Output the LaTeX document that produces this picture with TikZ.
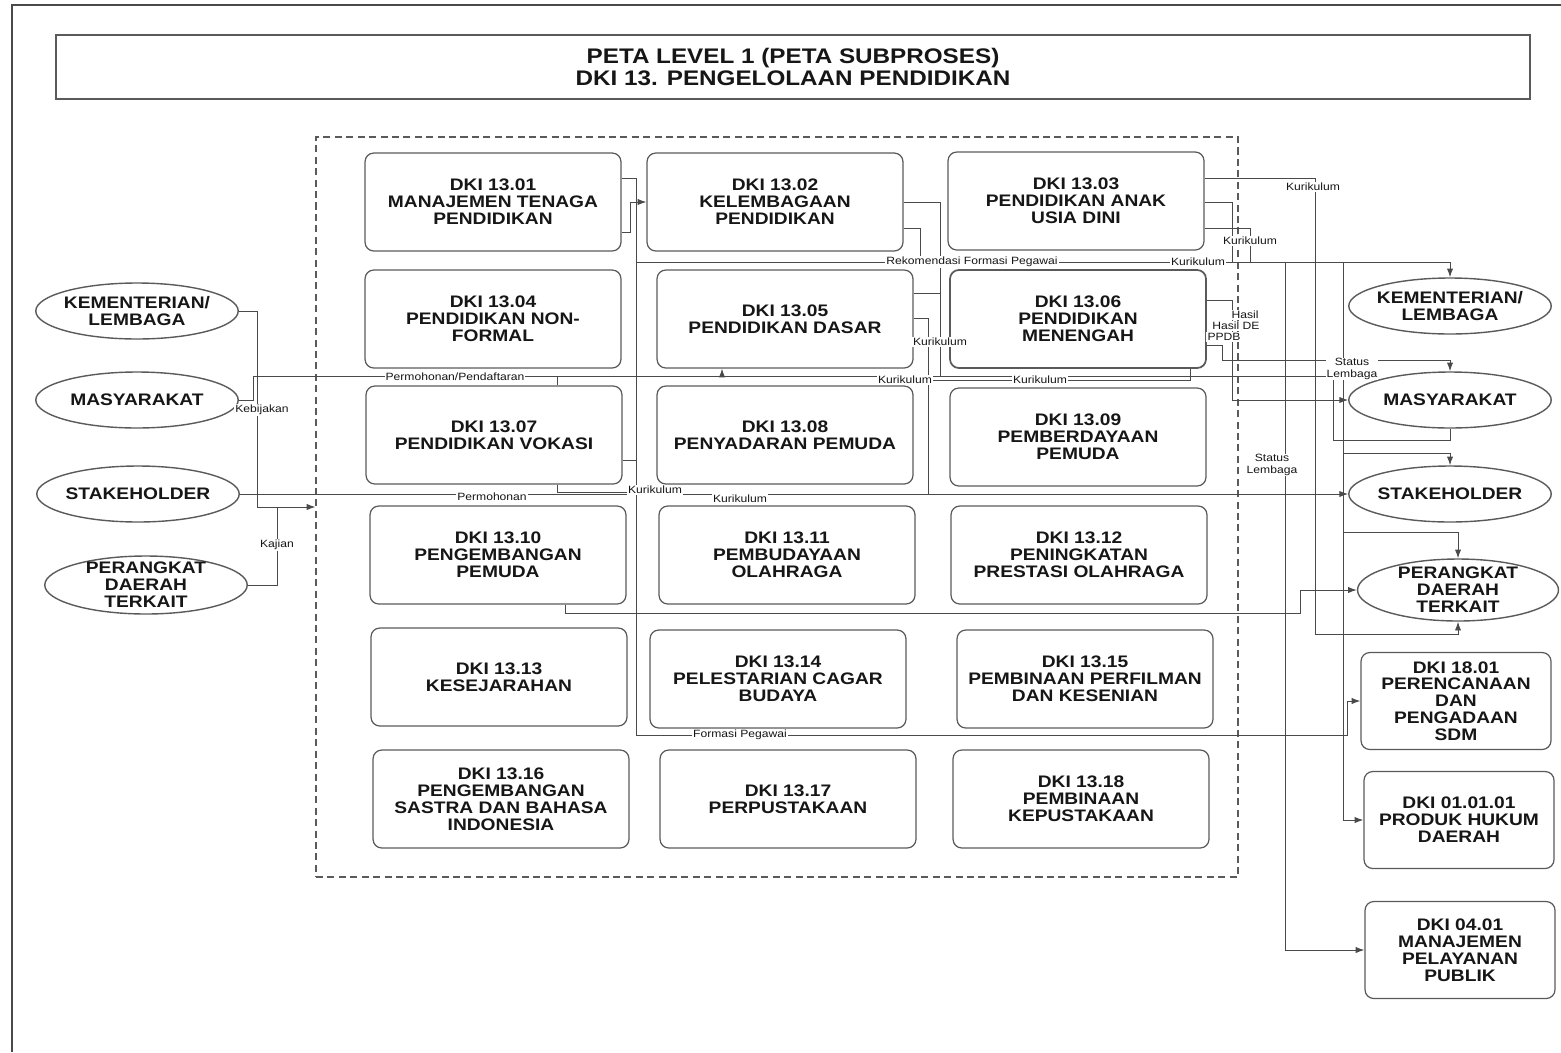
\documentclass[tikz,border=0pt]{standalone}
\usepackage{fontspec}
\setmainfont{Liberation Sans}[FakeStretch=1.15]
\usepackage{xcolor}
\usepackage{tikz}
\usetikzlibrary{arrows.meta, positioning, shapes.geometric, fit}
\definecolor{pkGaris}{HTML}{4A4A4A}
\definecolor{pkKotak}{HTML}{5A5A5A}
\definecolor{pkTeks}{HTML}{161616}
\tikzset{
  pk-proses/.style={
    rectangle, rounded corners=5pt, draw=pkKotak, line width=0.7pt,
    minimum width=5.12cm, minimum height=1.96cm, align=center,
    text=pkTeks, font=\bfseries\fontsize{9.5}{9.6}\selectfont
  },
  pk-luar/.style={
    pk-proses, minimum width=3.8cm, minimum height=1.94cm
  },
  pk-pihak/.style={
    ellipse, draw=pkKotak, line width=0.8pt, inner sep=0pt,
    minimum width=4.05cm, minimum height=1.12cm
  },
  pk-pihak-teks/.style={
    align=center, text=pkTeks, inner sep=0pt,
    font=\bfseries\fontsize{9.5}{9.6}\selectfont
  },
  pk-judul/.style={
    rectangle, draw=pkKotak, line width=0.8pt, align=center,
    minimum width=29.48cm, minimum height=1.28cm,
    text=pkTeks, font=\bfseries\fontsize{12}{12}\selectfont
  },
  pk-wadah/.style={
    rectangle, draw=pkKotak, dash pattern=on 4pt off 2.5pt,
    line width=0.6pt, inner sep=0pt
  },
  pk-garis/.style={draw=pkGaris, line width=0.55pt},
  pk-alir/.style={pk-garis, -{Latex[length=5pt,width=3.6pt]}},
  pk-ket/.style={
    font=\fontsize{6}{6.4}\selectfont, fill=white, inner sep=0.6pt,
    align=center, text=pkTeks
  },
}
\begin{document}
\begin{tikzpicture}[x=0.02cm, y=-0.02cm]
  \useasboundingbox (0,0) rectangle (1561,1052);
  \draw[pkGaris, line width=1.1pt] (12,1052) -- (12,5) -- (1561,5);
  \node[pk-judul] (judul) at (793,67)
    {PETA LEVEL 1 (PETA SUBPROSES)\\DKI 13. PENGELOLAAN PENDIDIKAN};

  % wadah subproses
  \coordinate (wA) at (316,137);
  \coordinate (wB) at (1238,877);
  \node[pk-wadah, fit=(wA)(wB)] (wadah) {};

  % subproses DKI 13
  \node[pk-proses] (p01) at (493,202) {DKI 13.01\\MANAJEMEN TENAGA\\PENDIDIKAN};
  \node[pk-proses] (p02) at (775,202) {DKI 13.02\\KELEMBAGAAN\\PENDIDIKAN};
  \node[pk-proses] (p03) at (1076,201) {DKI 13.03\\PENDIDIKAN ANAK\\USIA DINI};
  \node[pk-proses] (p04) at (493,319) {DKI 13.04\\PENDIDIKAN NON-\\FORMAL};
  \node[pk-proses] (p05) at (785,319) {DKI 13.05\\PENDIDIKAN DASAR};
  \node[pk-proses, line width=1pt] (p06) at (1078,319) {DKI 13.06\\PENDIDIKAN\\MENENGAH};
  \node[pk-proses] (p07) at (494,435) {DKI 13.07\\PENDIDIKAN VOKASI};
  \node[pk-proses] (p08) at (785,435) {DKI 13.08\\PENYADARAN PEMUDA};
  \node[pk-proses] (p09) at (1078,437) {DKI 13.09\\PEMBERDAYAAN\\PEMUDA};
  \node[pk-proses] (p10) at (498,555) {DKI 13.10\\PENGEMBANGAN\\PEMUDA};
  \node[pk-proses] (p11) at (787,555) {DKI 13.11\\PEMBUDAYAAN\\OLAHRAGA};
  \node[pk-proses] (p12) at (1079,555) {DKI 13.12\\PENINGKATAN\\PRESTASI OLAHRAGA};
  \node[pk-proses] (p13) at (499,677) {DKI 13.13\\KESEJARAHAN};
  \node[pk-proses] (p14) at (778,679) {DKI 13.14\\PELESTARIAN CAGAR\\BUDAYA};
  \node[pk-proses] (p15) at (1085,679) {DKI 13.15\\PEMBINAAN PERFILMAN\\DAN KESENIAN};
  \node[pk-proses] (p16) at (501,799) {DKI 13.16\\PENGEMBANGAN\\SASTRA DAN BAHASA\\INDONESIA};
  \node[pk-proses] (p17) at (788,799) {DKI 13.17\\PERPUSTAKAAN};
  \node[pk-proses] (p18) at (1081,799) {DKI 13.18\\PEMBINAAN\\KEPUSTAKAAN};

  % pihak kiri
  \node[pk-pihak, label={[pk-pihak-teks]center:KEMENTERIAN/\\LEMBAGA}] (lKem) at (137,311) {};
  \node[pk-pihak, label={[pk-pihak-teks]center:MASYARAKAT}] (lMas) at (137,400) {};
  \node[pk-pihak, label={[pk-pihak-teks]center:STAKEHOLDER}] (lStk) at (138,494) {};
  \node[pk-pihak, minimum height=1.16cm,
        label={[pk-pihak-teks]center:PERANGKAT\\DAERAH\\TERKAIT}] (lPer) at (146,585) {};

  % pihak kanan
  \node[pk-pihak, label={[pk-pihak-teks]center:KEMENTERIAN/\\LEMBAGA}] (rKem) at (1450,306) {};
  \node[pk-pihak, label={[pk-pihak-teks]center:MASYARAKAT}] (rMas) at (1450,400) {};
  \node[pk-pihak, label={[pk-pihak-teks]center:STAKEHOLDER}] (rStk) at (1450,494) {};
  \node[pk-pihak, minimum width=4.02cm, minimum height=1.24cm,
        label={[pk-pihak-teks]center:PERANGKAT\\DAERAH\\TERKAIT}] (rPer) at (1458,590) {};

  % proses luar
  \node[pk-luar] (x1801) at (1456,701) {DKI 18.01\\PERENCANAAN\\DAN\\PENGADAAN\\SDM};
  \node[pk-luar] (x010101) at (1459,820) {DKI 01.01.01\\PRODUK HUKUM\\DAERAH};
  \node[pk-luar] (x0401) at (1460,950) {DKI 04.01\\MANAJEMEN\\PELAYANAN\\PUBLIK};

  % masukan dari kiri
  \draw[pk-alir] (lKem.east) -| (257,507) -- (wadah.west |- 0,507);
  \draw[pk-garis] (lPer.east) -| (277,507);
  \draw[pk-garis] (lMas.east) -| (253,376) -- (1333,376) -- (1333,440) -| (rMas.south);
  \draw[pk-alir] (lStk.east) -- (rStk.west);

  % tulang tengah
  \draw[pk-alir] (p01.east |- 0,178) -| (636,735) -- (1347,735) |- (x1801.west);
  \draw[pk-alir] (p01.east |- 0,232) -- (630,232) |- (p02.west);
  \draw[pk-garis] (p07.east |- 0,460) -- (636,460);
  \draw[pk-garis] (p07.north -| 557,0) -- (557,376);
  \draw[pk-garis] (p07.south -| 557,0) |- (636,492);
  \draw[pk-alir] (722,376) -- (p05.south -| 722,0);
  \draw[pk-alir] (p10.south -| 565,0) |- (1300,613) |- (rPer.west);

  % keluaran 13.02 dan 13.05
  \draw[pk-garis] (p02.east |- 0,202) -| (940,376);
  \draw[pk-garis] (p02.east |- 0,228) -| (920,262);
  \draw[pk-garis] (p05.east |- 0,293) -- (940,293);
  \draw[pk-garis] (p05.east |- 0,318) -| (928,494);
  \draw[pk-garis] (p06.south -| 1190,0) |- (928,380);
  \draw[pk-alir] (636,262) -| (1343,820) -- (x010101.west);
  \draw[pk-alir] (1343,453) -| (rStk.north);
  \draw[pk-alir] (1343,532) -| (rPer.north);
  \draw[pk-alir] (1285,262) |- (x0401.west);

  % keluaran 13.03 dan 13.06
  \draw[pk-alir] (p03.east |- 0,178) -| (1315,634) -| (rPer.south);
  \draw[pk-garis] (p03.east |- 0,202) -| (1232,262);
  \draw[pk-alir] (p03.east |- 0,228) -| (1250,262) -| (rKem.north);
  \draw[pk-alir] (p06.east |- 0,345) -| (1222,360) -| (rMas.north);
  \draw[pk-alir] (p06.east |- 0,300) -| (1232,400) -- (rMas.west);

  % keterangan
  \node[pk-ket] at (262,410) {Kebijakan};
  \node[pk-ket] at (277,545) {Kajian};
  \node[pk-ket] at (455,377) {Permohonan/Pendaftaran};
  \node[pk-ket] at (492,497) {Permohonan};
  \node[pk-ket] at (655,490) {Kurikulum};
  \node[pk-ket] at (740,499) {Kurikulum};
  \node[pk-ket] at (972,262) {Rekomendasi Formasi Pegawai};
  \node[pk-ket] at (1198,262) {Kurikulum};
  \node[pk-ket] at (1250,241) {Kurikulum};
  \node[pk-ket] at (1313,187) {Kurikulum};
  \node[pk-ket] at (940,342) {Kurikulum};
  \node[pk-ket] at (905,380) {Kurikulum};
  \node[pk-ket] at (1040,380) {Kurikulum};
  \node[pk-ket] at (1245,315) {Hasil};
  \node[pk-ket] at (1236,326) {Hasil DE};
  \node[pk-ket] at (1224,337) {PPDB};
  \node[pk-ket] at (1352,369) {Status\\Lembaga};
  \node[pk-ket] at (1272,465) {Status\\Lembaga};
  \node[pk-ket] at (740,735) {Formasi Pegawai};
\end{tikzpicture}
\end{document}
